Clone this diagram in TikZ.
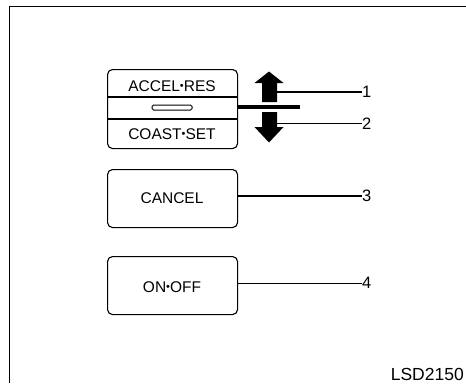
\documentclass[tikz,border=0pt]{standalone}
\usepackage{fontspec}
\setmainfont{Liberation Sans}
\newcommand{\smdot}{{\fontsize{11}{11}\selectfont\raisebox{1.6pt}{•}}}
\begin{document}
\begin{tikzpicture}[x=1pt,y=-1pt,
  swbox/.style={draw=black,line width=1.1pt,rounded corners=5pt,inner sep=0pt,anchor=north west},
  lbl/.style={inner sep=0pt,font=\fontsize{15.5}{18}\selectfont,text height=11.1pt,text depth=0pt},
  num/.style={inner sep=0pt,anchor=west,font=\fontsize{16.5}{19}\selectfont,text height=11.8pt,text depth=0pt},
  lead/.style={line width=1.2pt},
  arr/.style={fill=black,draw=none}]
\useasboundingbox (0,0) rectangle (466,383);
% frame (only top and left visible)
\draw[line width=1pt] (9.5,383) -- (9.5,6.5) -- (466,6.5);
% ACCEL/COAST switch
\node[swbox,minimum width=130pt,minimum height=79pt] (ar) at (107,69) {};
\draw[line width=1.1pt] (107,97) -- (237,97);
\draw[line width=1.1pt] (107,119) -- (237,119);
\node[lbl] (accel) at (172,85.5) {ACCEL\smdot RES};
\node[lbl] (coast) at (172,133.5) {COAST\smdot SET};
\node[draw=black,line width=1pt,rounded corners=1.5pt,minimum width=40pt,minimum height=5pt,inner sep=0pt] (slot) at (172,107.5) {};
% lever bar
\coordinate (barend) at (300,107);
\draw[line width=4.5pt] (ar.east |- barend) -- (barend);
% arrows
\fill[arr] (269,71.5) -- (283.5,83) -- (277,83) -- (277,102) -- (262,102) -- (262,83) -- (254.5,83) -- cycle;
\fill[arr] (269,142.5) -- (283.5,127) -- (277,127) -- (277,112) -- (262,112) -- (262,127) -- (254.5,127) -- cycle;
% leaders
\coordinate (a1) at (277,92);
\coordinate (a2) at (277,123.5);
\node[num] (n1) at (362,92) {1};
\node[num] (n2) at (362,123.5) {2};
\draw[lead] (a1) -- (n1.west);
\draw[line width=1pt] (a2) -- (n2.west);
% CANCEL
\node[swbox,minimum width=130pt,minimum height=58pt] (cancel) at (107,169) {};
\node[lbl] (canceltxt) at (172,197.5) {CANCEL};
\node[num] (n3) at (362,196) {3};
\draw[lead] (cancel.east |- n3.west) -- (n3.west);
% ON-OFF
\node[swbox,minimum width=130pt,minimum height=58pt] (onoff) at (107,256) {};
\node[lbl] (onofftxt) at (172,286.5) {ON\smdot OFF};
\node[num] (n4) at (362,283) {4};
\draw[line width=1pt] (onoff.east |- n4.west) -- (n4.west);
% figure code
\node[inner sep=0pt,anchor=east,font=\fontsize{17.5}{20}\selectfont,text height=12.5pt,text depth=0pt] (code) at (464,374.5) {LSD2150};
\end{tikzpicture}
\end{document}
